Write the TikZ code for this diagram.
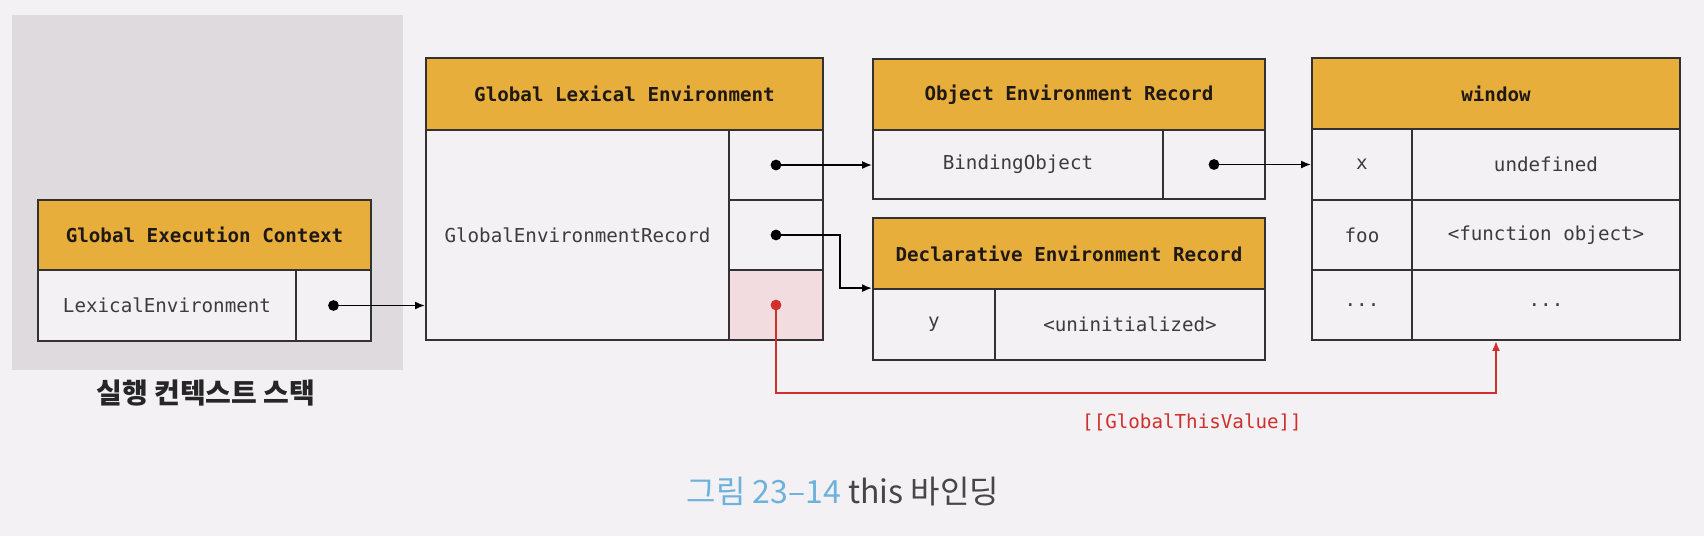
\documentclass[tikz,border=0pt]{standalone}
\usepackage{fontspec}
\setmonofont{DejaVu Sans Mono}
\newfontfamily\krfont{Noto Sans CJK KR}
\usetikzlibrary{arrows.meta,calc}
\definecolor{bgc}{RGB}{243,241,244}
\definecolor{stackc}{RGB}{222,218,221}
\definecolor{headc}{RGB}{232,174,60}
\definecolor{bodyc}{RGB}{243,241,244}
\definecolor{pinkc}{RGB}{242,220,223}
\definecolor{redc}{RGB}{208,48,44}
\definecolor{borderc}{RGB}{50,50,50}
\definecolor{txtc}{RGB}{60,60,60}
\definecolor{headtxt}{RGB}{30,25,20}
\definecolor{capblue}{RGB}{110,178,220}
\definecolor{capgray}{RGB}{70,70,70}
\begin{document}
\begin{tikzpicture}[x=0.5pt,y=-0.5pt,
  sz/.style 2 args={minimum width=#1*0.5pt,minimum height=#2*0.5pt},
  cell/.style={draw=borderc,line width=0.9pt,fill=bodyc,inner sep=0pt,text=txtc,
    font=\ttfamily\fontsize{9.6}{12}\selectfont},
  headbox/.style={cell,fill=headc,text=headtxt,font=\ttfamily\bfseries\fontsize{9.6}{12}\selectfont},
  link/.style={draw=black,line width=0.95pt,-{Latex[length=5pt,width=4pt]}},
  redlink/.style={draw=redc,line width=0.95pt,-{Latex[length=5pt,width=4pt]}},
  blackdot/.style={circle,fill=black,inner sep=0pt,minimum size=5.4pt},
  reddot/.style={circle,fill=redc,inner sep=0pt,minimum size=5.4pt}
]
\useasboundingbox[fill=bgc] (0,0) rectangle (1704,536);
% execution context stack
\node[fill=stackc,inner sep=0pt,sz={391}{355}] (stack) at (207.5,192.5) {};
\node[headbox,sz={333}{70}] (gech) at (204.5,235) {Global Execution Context};
\node[cell,sz={258}{71}] (gecL) at (167,305.5) {LexicalEnvironment};
\node[cell,sz={75}{71}] (gecR) at (333.5,305.5) {};
\node[font=\krfont\bfseries\fontsize{14}{16}\selectfont,text=black!85] (stacklbl) at (206,393) {실행 컨텍스트 스택};
% global lexical environment
\node[headbox,sz={397}{72}] (gleh) at (624.5,94) {Global Lexical Environment};
\node[cell,sz={303}{210}] (gleL) at (577.5,235) {GlobalEnvironmentRecord};
\node[cell,sz={94}{70}] (gleR1) at (776,165) {};
\node[cell,sz={94}{70}] (gleR2) at (776,235) {};
\node[cell,fill=pinkc,sz={94}{70}] (gleR3) at (776,305) {};
% object environment record
\node[headbox,sz={392}{71}] (oerh) at (1069,94.5) {Object Environment Record};
\node[cell,sz={290}{69}] (oerL) at (1018,164.5) {BindingObject};
\node[cell,sz={102}{69}] (oerR) at (1214,164.5) {};
% declarative environment record
\node[headbox,sz={392}{71}] (derh) at (1069,253.5) {Declarative Environment Record};
\node[cell,sz={122}{71}] (derL) at (934,324.5) {y};
\node[cell,sz={270}{71}] (derR) at (1130,324.5) {<uninitialized>};
% window
\node[headbox,sz={368}{71}] (wh) at (1496,93.5) {window};
\node[cell,sz={100}{71}] (wxL) at (1362,164.5) {x};
\node[cell,sz={268}{71}] (wxR) at (1546,164.5) {undefined};
\node[cell,sz={100}{70}] (wfL) at (1362,235) {foo};
\node[cell,sz={268}{70}] (wfR) at (1546,235) {<function object>};
\node[cell,sz={100}{70}] (wdL) at (1362,305) {...};
\node[cell,sz={268}{70}] (wdR) at (1546,305) {...};
% connectors
\node[blackdot] (d1) at (gecR.center) {};
\node[blackdot] (d2) at (gleR1.center) {};
\node[blackdot] (d3) at (gleR2.center) {};
\node[blackdot] (d4) at (oerR.center) {};
\node[reddot] (d5) at (gleR3.center) {};
\draw[link] (d1.center) -- (d1.center -| gleL.west);
\draw[link] (d2.center) -- (d2.center -| oerL.west);
\draw[link] (d3.center) -- ++(64,0) |- (derL.north west);
\draw[link] (d4.center) -- (d4.center -| wxL.west);
\coordinate (rturn) at (1496,393);
\draw[redlink] (d5.center) |- (rturn) -- (rturn |- wdR.south);
\node[text=redc,font=\ttfamily\fontsize{9.6}{12}\selectfont] (gtv) at (1192,422) {[[GlobalThisValue]]};
% caption
\node[font=\krfont\fontsize{16}{19}\selectfont] (cap) at (843,492) {\textcolor{capblue}{그림 23–14} \textcolor{capgray}{this 바인딩}};
\end{tikzpicture}
\end{document}
